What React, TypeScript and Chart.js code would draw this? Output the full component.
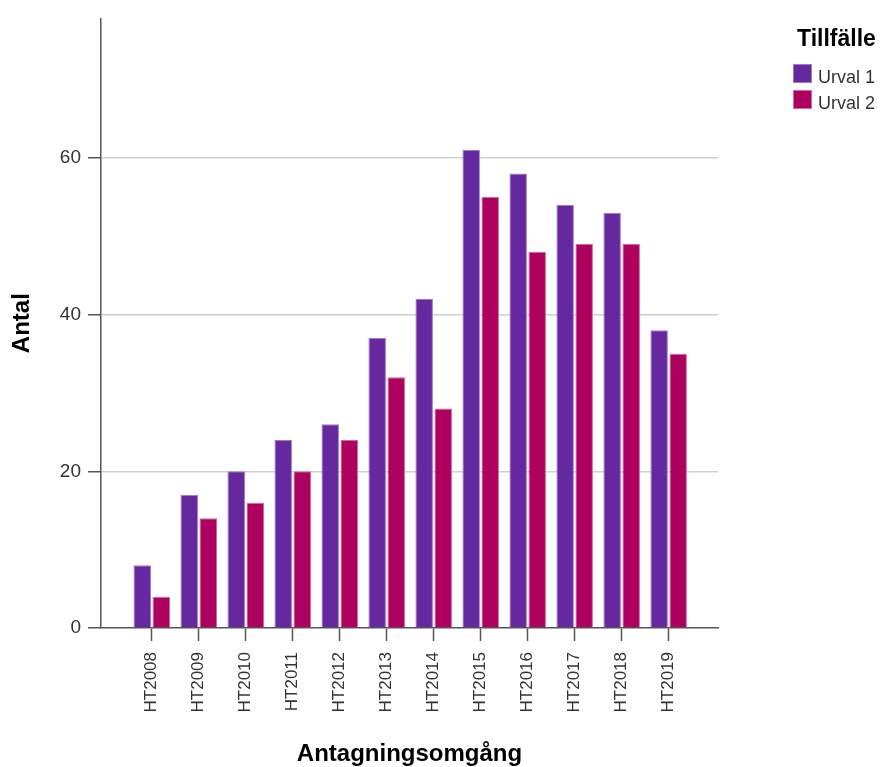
import React, { useEffect, useRef } from "react";
import { Chart, registerables } from "chart.js";

Chart.register(...registerables);

const categories = [
  "HT2008", "HT2009", "HT2010", "HT2011", "HT2012", "HT2013",
  "HT2014", "HT2015", "HT2016", "HT2017", "HT2018", "HT2019",
];
const urval1 = [8, 17, 20, 24, 26, 37, 42, 61, 58, 54, 53, 38];
const urval2 = [4, 14, 16, 20, 24, 32, 28, 55, 48, 49, 49, 35];
const seriesNames = ["Urval 1", "Urval 2"];
const seriesColors = ["#65289f", "#ae005f"];
const seriesBorders = ["#9f7cc7", "#d06a9f"];
const yTicks = [0, 20, 40, 60];
const legendTitle = "Tillfälle";
const xTitle = "Antagningsomgång";
const yTitle = "Antal";

const FONT = "'Liberation Sans', Arial, sans-serif";

const legendPlugin = {
  id: "customLegend",
  afterDraw(chart: any) {
    const ctx = chart.ctx;
    ctx.save();
    ctx.textAlign = "left";
    ctx.textBaseline = "alphabetic";
    ctx.fillStyle = "#000";
    ctx.font = `bold 23px ${FONT}`;
    ctx.fillText(legendTitle, 797, 46);
    chart.data.datasets.forEach((ds: any, i: number) => {
      const y = 64 + i * 26;
      ctx.fillStyle = ds.backgroundColor;
      ctx.fillRect(793, y, 19, 19);
      ctx.strokeStyle = ds.borderColor;
      ctx.lineWidth = 1;
      ctx.strokeRect(793.5, y + 0.5, 18, 18);
      ctx.fillStyle = "#333";
      ctx.font = `18px ${FONT}`;
      ctx.fillText(ds.label, 818, y + 19);
    });
    ctx.restore();
  },
};

export default function App() {
  const ref = useRef<HTMLCanvasElement>(null);
  useEffect(() => {
    document.body.style.margin = "0";
    const canvas = ref.current!;
    const chart = new Chart(canvas, {
      type: "bar",
      data: {
        datasets: [urval1, urval2].map((vals, k) => ({
          label: seriesNames[k],
          data: vals.map((v, i) => ({ x: i, y: v })),
          backgroundColor: seriesColors[k],
          borderColor: seriesBorders[k],
          borderWidth: 1,
          categoryPercentage: 0.81,
          barPercentage: 0.92,
        })),
      },
      options: {
        responsive: false,
        animation: false,
        layout: { padding: { top: 15, right: 162, left: 0, bottom: 0 } },
        plugins: { legend: { display: false }, tooltip: { enabled: false } },
        scales: {
          x: {
            type: "linear",
            offset: false,
            min: -1.08,
            max: 12.05,
            afterBuildTicks: (scale: any) => {
              scale.ticks = categories.map((_, i) => ({ value: i }));
            },
            afterFit: (scale: any) => {
              scale.height = 139;
            },
            ticks: {
              autoSkip: false,
              minRotation: 90,
              maxRotation: 90,
              padding: 11,
              color: "#333",
              font: { family: FONT, size: 17 },
              callback: (v: any) => categories[v] ?? "",
            },
            grid: {
              offset: false,
              drawOnChartArea: false,
              drawTicks: true,
              tickLength: 13,
              tickColor: "#555",
              tickWidth: 1.5,
            },
            border: { display: true, color: "#555", width: 1.5 },
            title: {
              display: true,
              text: xTitle,
              color: "#000",
              font: { family: FONT, size: 24, weight: "bold", lineHeight: 1 },
              padding: { top: 0, bottom: 1 },
            },
          },
          y: {
            min: 0,
            max: 77.8,
            afterBuildTicks: (scale: any) => {
              scale.ticks = yTicks.map((v) => ({ value: v }));
            },
            afterFit: (scale: any) => {
              scale.width = 101;
            },
            ticks: {
              padding: 7,
              color: "#333",
              font: { family: FONT, size: 19 },
            },
            grid: {
              color: (c: any) => (c.tick && c.tick.value === 0 ? "rgba(0,0,0,0)" : "#cfcfcf"),
              lineWidth: 1.5,
              drawTicks: true,
              tickLength: 13,
              tickColor: "#555",
              tickWidth: 1.5,
            },
            border: { display: true, color: "#555", width: 1.5 },
            title: {
              display: true,
              text: yTitle,
              color: "#000",
              font: { family: FONT, size: 24, weight: "bold", lineHeight: 1 },
              padding: { top: 10, bottom: 0 },
            },
          },
        },
      },
      plugins: [legendPlugin],
    });
    return () => chart.destroy();
  }, []);
  return <canvas ref={ref} width={880} height={767} style={{ display: "block" }} />;
}
